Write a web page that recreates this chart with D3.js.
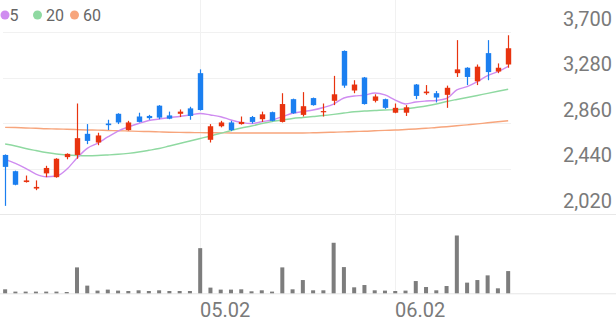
<!DOCTYPE html>
<html><head><meta charset="utf-8">
<script src="https://cdn.jsdelivr.net/npm/d3@7"></script>
<style>html,body{margin:0;padding:0;background:#fff;}svg{display:block;}</style>
</head><body>
<svg id="chart" width="616" height="321"></svg>
<script>
const dates = ["04.04","04.07","04.08","04.09","04.10","04.11","04.14","04.15","04.16","04.17","04.18","04.21","04.22","04.23","04.24","04.25","04.28","04.29","04.30","05.02","05.07","05.08","05.09","05.12","05.13","05.14","05.15","05.16","05.19","05.20","05.21","05.22","05.23","05.26","05.27","05.28","05.29","05.30","06.02","06.04","06.05","06.09","06.10","06.11","06.12","06.13","06.16","06.17","06.18","06.19"];
const open  = [2565,2415,2315,2255,2395,2360,2545,2565,2760,2680,2855,2945,2795,2920,2925,3020,2930,2945,2995,3320,2705,2830,2865,2850,2915,2895,2960,2870,3080,2935,3090,2960,3065,3525,3160,3280,3065,3080,2955,2955,3215,3135,3135,3120,3320,3370,3245,3505,3335,3400];
const high  = [2570,2420,2375,2330,2465,2535,2580,3040,2850,2770,2890,2950,2880,2955,2935,3025,2965,2985,3010,3355,2850,2880,2880,2920,2925,2965,2965,3135,3085,3145,3095,3040,3295,3530,3255,3285,3125,3085,3040,3025,3220,3210,3155,3205,3625,3375,3400,3625,3410,3670];
const low   = [2095,2285,2310,2240,2360,2355,2525,2530,2665,2655,2795,2850,2790,2865,2890,2895,2895,2915,2890,2975,2680,2820,2785,2845,2855,2870,2875,2865,2945,2920,3020,2920,3025,3185,3135,3030,3050,2990,2950,2925,3080,3120,3050,3000,3285,3210,3210,3255,3320,3370];
const close = [2455,2290,2330,2270,2445,2530,2575,2720,2695,2745,2840,2865,2865,2870,2905,2910,2900,2965,2925,2980,2830,2865,2795,2870,2870,2940,2880,3035,2950,3015,3025,2970,3125,3205,3215,3035,3105,3000,3000,3005,3110,3150,3095,3185,3355,3285,3380,3330,3370,3550];
const volume = [80000,34000,34000,34000,34000,34000,26000,520000,154000,54000,74000,54000,46000,60000,46000,60000,46000,46000,46000,906000,114000,74000,74000,80000,40000,60000,34000,520000,80000,266000,60000,60000,1014000,526000,120000,166000,60000,54000,46000,54000,246000,126000,60000,146000,1160000,214000,266000,360000,100000,446000];
const ma5  = [2525,2488,2442,2389,2364,2371,2433,2537,2626,2673,2731,2786,2823,2855,2883,2897,2911,2920,2934,2948,2934,2918,2888,2866,2855,2872,2888,2918,2950,2966,2980,3003,3035,3091,3109,3116,3137,3119,3072,3035,3054,3063,3068,3086,3165,3195,3241,3298,3334,3382];
const ma20 = [2666,2648,2625,2606,2588,2574,2565,2560,2558,2560,2565,2571,2580,2592,2608,2625,2648,2671,2694,2717,2740,2765,2791,2814,2832,2855,2874,2888,2902,2911,2920,2929,2940,2952,2964,2971,2975,2980,2983,2989,3003,3017,3035,3058,3077,3095,3114,3134,3153,3171];
const ma60 = [2820,2818,2814,2811,2807,2805,2802,2799,2796,2794,2791,2789,2786,2783,2781,2778,2775,2773,2772,2771,2770,2769,2768,2768,2768,2768,2768,2768,2768,2768,2770,2772,2775,2778,2782,2784,2788,2792,2795,2800,2805,2811,2819,2826,2834,2843,2852,2862,2871,2881];
const yTicks = [2020,2440,2860,3280,3700];
const xTickLabels = ["05.02","06.02"];
const maNames = ["5","20","60"];
const maColors = ["#cf8cf0","#8fd9a1","#f7a57c"];

const svg = d3.select("#chart");
const W = 616;
const x = d3.scaleBand().domain(d3.range(dates.length)).range([0, 513.3]).padding(0);
const cx = i => x(i) + x.bandwidth()/2;
const y = d3.scaleLinear().domain([2020, 3700]).range([214, 32]);
const yv = d3.scaleLinear().domain([0, d3.max(volume)]).range([293.3, 235.5]);
const font = "Roboto, 'Noto Sans', sans-serif";
const up = "#e8330f", down = "#1b7ff0";

// grid
const g = svg.append("g");
yTicks.forEach((t, k) => {
  const yy = Math.round(y(t)) + 0.5;
  g.append("line").attr("x1", k === 0 ? 0 : 3).attr("x2", k === 0 ? W : 511)
    .attr("y1", yy).attr("y2", yy).attr("stroke", k === 0 ? "#e8e8e8" : "#f1f1f1").attr("stroke-width", 1);
});
xTickLabels.forEach(lab => {
  const i = dates.indexOf(lab);
  const xx = Math.round(cx(i)) + 0.5;
  g.append("line").attr("x1", xx).attr("x2", xx).attr("y1", 0).attr("y2", 293)
    .attr("stroke", "#f1f1f1").attr("stroke-width", 1);
  svg.append("text").attr("x", xx - 0.5).attr("y", 316.5).text(lab)
    .attr("font-family", font).attr("font-size", 20).attr("fill", "#7a7a7a");
});
// volume baseline
svg.append("line").attr("x1", 0).attr("x2", W).attr("y1", 293.8).attr("y2", 293.8)
  .attr("stroke", "#e6e6e6").attr("stroke-width", 1);

// y labels
yTicks.forEach(t => {
  svg.append("text").attr("x", 612).attr("y", y(t) - 6.5).attr("text-anchor", "end")
    .text(d3.format(",")(t)).attr("font-family", font).attr("font-size", 20).attr("fill", "#7a7a7a");
});

// volume bars
const vw = 4;
svg.append("g").selectAll("rect").data(volume).join("rect")
  .attr("x", (d, i) => cx(i) - vw/2).attr("width", vw)
  .attr("y", d => yv(d)).attr("height", d => 293.3 - yv(d))
  .attr("fill", "#7d7d7d");

// MA lines
[ma60, ma20, ma5].forEach((arr, k) => {
  const col = maColors[2 - k];
  const line = d3.line().x((d, i) => cx(i)).y(d => y(d)).curve(d3.curveMonotoneX);
  svg.append("path").attr("d", line(arr)).attr("fill", "none").attr("stroke", col).attr("stroke-width", 1.4);
});

// candles
const bw = 5.4;
const cg = svg.append("g");
dates.forEach((d, i) => {
  const col = close[i] >= open[i] ? up : down;
  const xc = Math.round(cx(i)) + 0.5;
  cg.append("line").attr("x1", xc).attr("x2", xc).attr("y1", y(high[i])).attr("y2", y(low[i]))
    .attr("stroke", col).attr("stroke-width", 1.2);
  const top = y(Math.max(open[i], close[i])), bot = y(Math.min(open[i], close[i]));
  cg.append("rect").attr("x", xc - bw/2).attr("width", bw)
    .attr("y", top).attr("height", Math.max(1.2, bot - top)).attr("fill", col);
});

// legend
const lx = [5, 37.5, 74.5], tx = [9.5, 46, 83];
maNames.forEach((n, k) => {
  svg.append("circle").attr("cx", lx[k]).attr("cy", 15).attr("r", 4.5).attr("fill", maColors[k]);
  svg.append("text").attr("x", tx[k]).attr("y", 21).text(n)
    .attr("font-family", font).attr("font-size", 16).attr("fill", "#666");
});
</script>
</body></html>
